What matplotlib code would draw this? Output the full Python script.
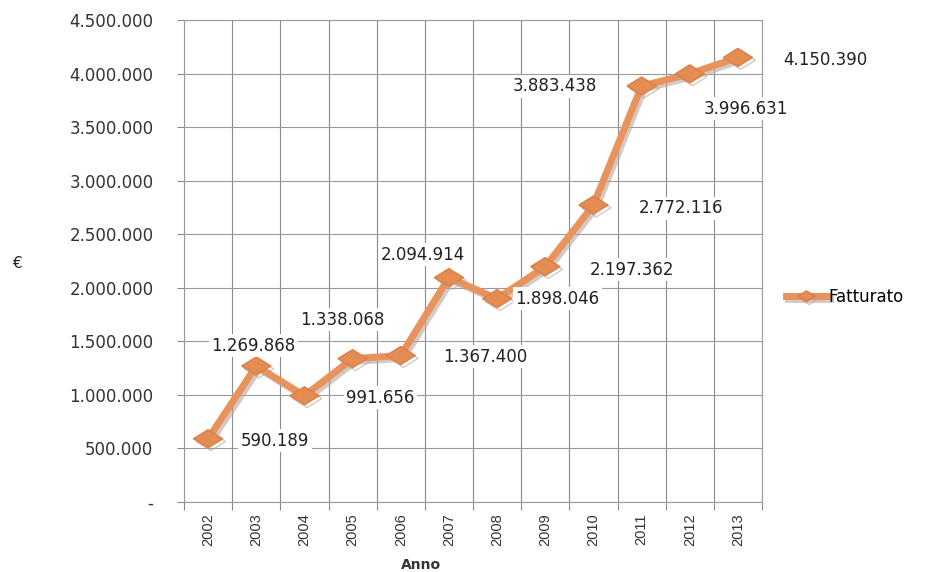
import matplotlib.pyplot as plt
import matplotlib.patheffects as pe
from matplotlib.ticker import FuncFormatter, MultipleLocator
import numpy as np

anni = ['2002', '2003', '2004', '2005', '2006', '2007', '2008', '2009', '2010', '2011', '2012', '2013']
fatturato = [590189, 1269868, 991656, 1338068, 1367400, 2094914, 1898046, 2197362, 2772116, 3883438, 3996631, 4150390]
# label offsets in pixels (dx right, dy down) relative to each point
lab_dx = [67, -3, 76, -10, 84, -26, 60, 87, 88, -87, 56, 87]
lab_dy = [2, -20, 2, -39, 1, -23, 0, 3, 3, 0, 35, 3]

def it_fmt(v, pos=None):
    if abs(v) < 1:
        return '-'
    return f'{int(round(v)):,}'.replace(',', '.')

plt.rcParams['font.family'] = ['DejaVu Sans']
fig = plt.figure(figsize=(9.47, 5.72), dpi=100)
ax = fig.add_axes([184/947, 1-502/572, (762-184)/947, (502-20)/572])

x = np.arange(len(anni))
col = '#e8925c'
diamond = [(-1, 0), (0, 0.62), (1, 0), (0, -0.62), (-1, 0)]
shadow = [pe.SimpleLineShadow(offset=(2, -2), shadow_color='#b9a89c', alpha=0.6), pe.Normal()]
ax.plot(x, fatturato, color=col, lw=5, marker=diamond, markersize=21,
        markerfacecolor='#e58c52', markeredgecolor='#d98048', markeredgewidth=1,
        path_effects=shadow, label='Fatturato', zorder=3, solid_joinstyle='miter')

for i, v in enumerate(fatturato):
    ax.annotate(it_fmt(v), (x[i], v), xytext=(lab_dx[i]*0.72, -lab_dy[i]*0.72),
                textcoords='offset points', ha='center', va='center',
                fontsize=12, color='#222222', zorder=4,
                bbox=dict(boxstyle='square,pad=0.15', fc='white', ec='none'))

ax.set_xlim(-0.5, len(anni) - 0.5)
ax.set_ylim(0, 4500000)
ax.yaxis.set_major_locator(MultipleLocator(500000))
ax.yaxis.set_major_formatter(FuncFormatter(it_fmt))
ax.set_xticks(x)
ax.set_xticklabels(anni, rotation=90, family='Liberation Sans',
                   fontsize=10.5, color='#333333')
ax.set_xticks(np.arange(len(anni) + 1) - 0.5, minor=True)
ax.tick_params(axis='x', which='major', length=0, pad=8)
ax.tick_params(axis='x', which='minor', length=6, color='#8a8a8a', width=0.8)
ax.tick_params(axis='y', length=5, color='#8a8a8a', width=0.8, labelsize=12,
               labelcolor='#333333', pad=17)
ax.grid(True, axis='y', which='major', color='#9a9a9a', lw=0.8)
ax.grid(True, axis='x', which='minor', color='#8a8a8a', lw=0.8)
for s in ax.spines.values():
    s.set_color('#9a9a9a')
    s.set_linewidth(0.8)

ax.set_xlabel('Anno', fontsize=10, fontweight='bold', color='#333333', va='center')
ax.xaxis.set_label_coords(0.41, -0.131)
ax.set_ylabel('€', fontsize=11, rotation=0, color='#222222', va='center')
ax.yaxis.set_label_coords(-0.29, 0.495)

ax.legend(loc='center left', bbox_to_anchor=(1.015, 0.425), frameon=False, fontsize=12,
          handlelength=2.5, handletextpad=0.05, markerscale=0.6)

fig.savefig('out.png', dpi=100)
